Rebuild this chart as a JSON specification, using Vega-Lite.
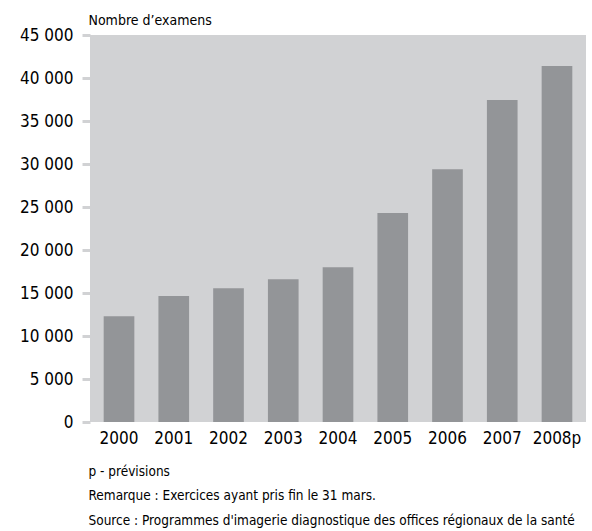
{
  "$schema": "https://vega.github.io/schema/vega-lite/v6.json",
  "width": 496,
  "height": 387,
  "autosize": {"type": "none"},
  "padding": {"left": 90, "top": 35, "right": 6, "bottom": 109},
  "background": "white",
  "config": {
    "view": {"fill": "#d1d2d4", "stroke": null},
    "font": "Liberation Sans Narrow, DejaVu Sans Condensed, sans-serif"
  },
  "data": {
    "values": [
      {"annee": "2000", "examens": 12300},
      {"annee": "2001", "examens": 14650},
      {"annee": "2002", "examens": 15550},
      {"annee": "2003", "examens": 16600},
      {"annee": "2004", "examens": 18000},
      {"annee": "2005", "examens": 24300},
      {"annee": "2006", "examens": 29400},
      {"annee": "2007", "examens": 37450},
      {"annee": "2008p", "examens": 41400}
    ]
  },
  "mark": {"type": "bar", "color": "#939598"},
  "encoding": {
    "x": {
      "field": "annee",
      "type": "nominal",
      "sort": null,
      "scale": {"paddingInner": 0.44, "paddingOuter": 0.25},
      "axis": {
        "labelAngle": 0,
        "ticks": false,
        "domain": false,
        "labelPadding": 8,
        "labelFontSize": 17,
        "labelColor": "black",
        "title": ["p - prévisions", "Remarque : Exercices ayant pris fin le 31 mars.", "Source : Programmes d'imagerie diagnostique des offices régionaux de la santé"],
        "titleFontSize": 13.5,
        "titleFontWeight": "normal",
        "titleColor": "black",
        "titleAlign": "left",
        "titleAnchor": "start",
        "titleBaseline": "alphabetic",
        "titleX": -2,
        "titleY": 53,
        "titleLineHeight": 24.5
      }
    },
    "y": {
      "field": "examens",
      "type": "quantitative",
      "scale": {"domain": [0, 45000], "nice": false},
      "axis": {
        "values": [0, 5000, 10000, 15000, 20000, 25000, 30000, 35000, 40000, 45000],
        "labelExpr": "replace(format(datum.value, ','), ',', ' ')",
        "grid": false,
        "domain": false,
        "tickColor": "#d1d2d4",
        "tickWidth": 3,
        "tickSize": 8,
        "labelPadding": 9,
        "labelFontSize": 17,
        "labelColor": "black",
        "title": "Nombre d’examens",
        "titleAngle": 0,
        "titleFontSize": 14,
        "titleFontWeight": "normal",
        "titleColor": "black",
        "titleAlign": "left",
        "titleBaseline": "alphabetic",
        "titleX": -2,
        "titleY": -11
      }
    }
  }
}
